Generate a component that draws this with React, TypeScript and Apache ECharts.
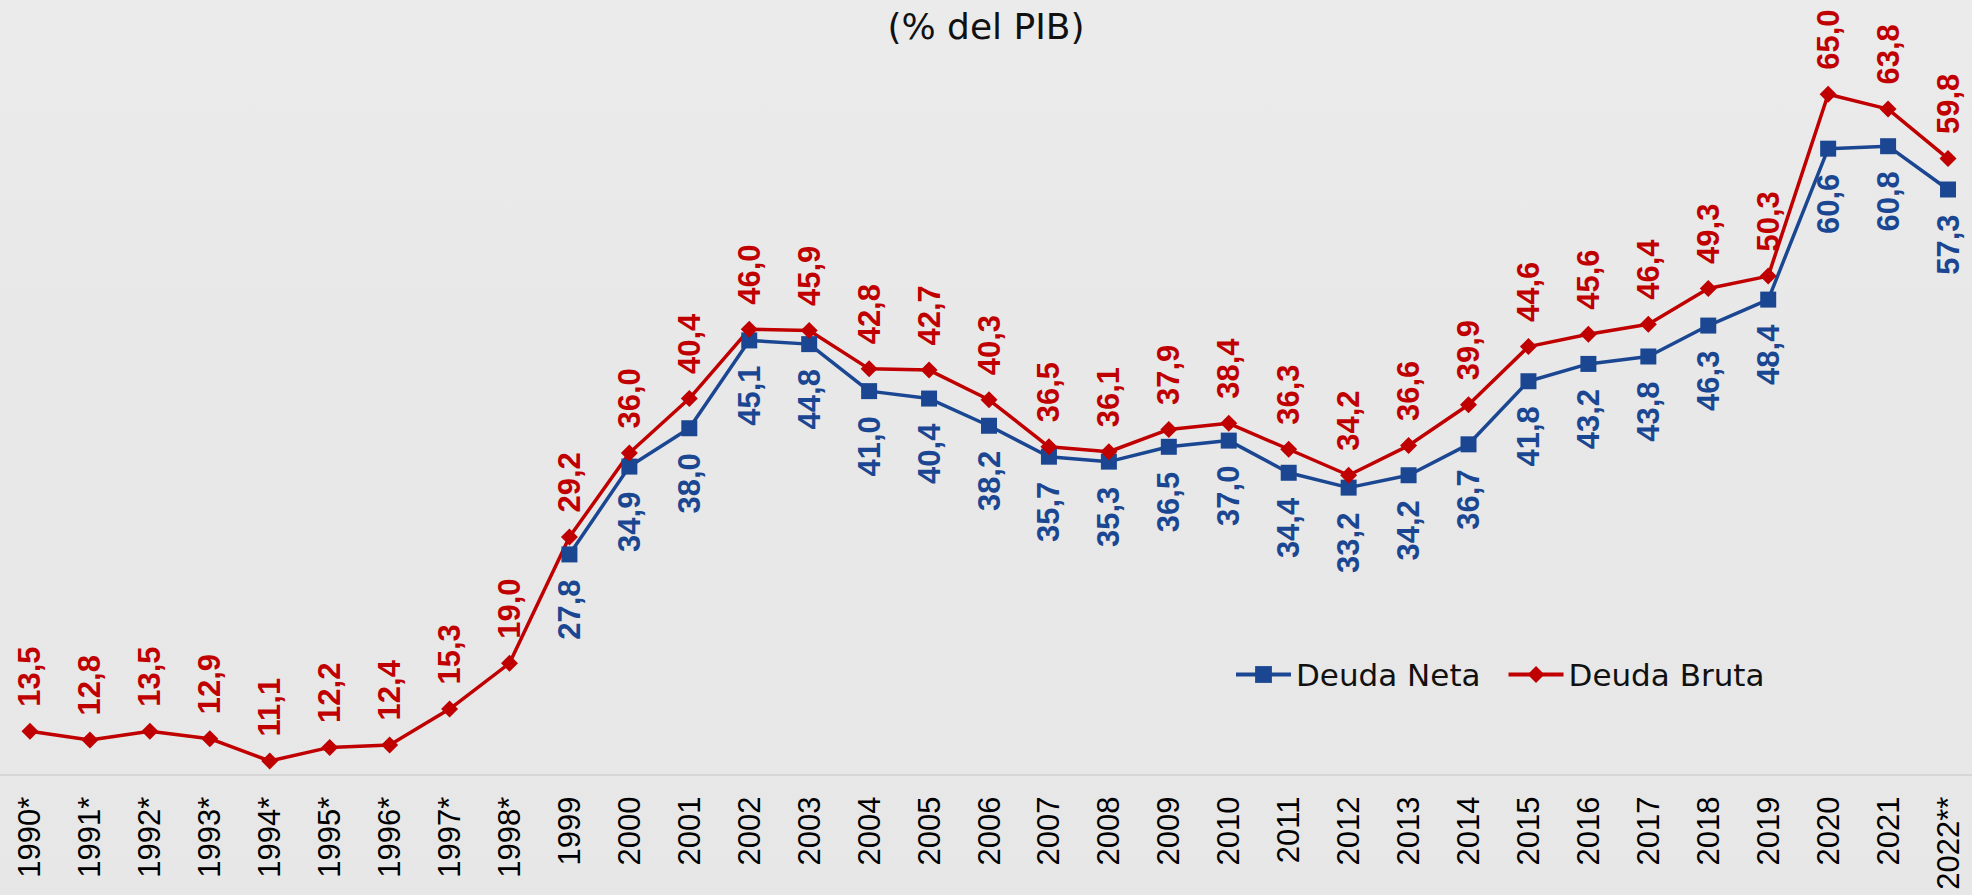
import React, { useEffect, useRef } from "react";
import * as echarts from "echarts";

const years = [
  "1990*", "1991*", "1992*", "1993*", "1994*", "1995*", "1996*", "1997*", "1998*",
  "1999", "2000", "2001", "2002", "2003", "2004", "2005", "2006", "2007", "2008",
  "2009", "2010", "2011", "2012", "2013", "2014", "2015", "2016", "2017", "2018",
  "2019", "2020", "2021", "2022**",
];

const deudaBruta = [
  13.5, 12.8, 13.5, 12.9, 11.1, 12.2, 12.4, 15.3, 19.0,
  29.2, 36.0, 40.4, 46.0, 45.9, 42.8, 42.7, 40.3, 36.5, 36.1,
  37.9, 38.4, 36.3, 34.2, 36.6, 39.9, 44.6, 45.6, 46.4, 49.3,
  50.3, 65.0, 63.8, 59.8,
];

const deudaNeta = [
  null, null, null, null, null, null, null, null, null,
  27.8, 34.9, 38.0, 45.1, 44.8, 41.0, 40.4, 38.2, 35.7, 35.3,
  36.5, 37.0, 34.4, 33.2, 34.2, 36.7, 41.8, 43.2, 43.8, 46.3,
  48.4, 60.6, 60.8, 57.3,
];

const RED = "#C00000";
const BLUE = "#1B4792";

const fmt = (p: any) => {
  const v = Array.isArray(p.value) ? p.value[1] : p.value;
  if (v === null || v === undefined || v === "-") return "";
  return Number(v).toFixed(1).replace(".", ",");
};

export default function App() {
  const ref = useRef<HTMLDivElement>(null);

  useEffect(() => {
    document.body.style.margin = "0";
    if (!ref.current) return;
    const chart = echarts.init(ref.current, undefined, { renderer: "svg" });
    chart.setOption({
      animation: false,
      backgroundColor: {
        type: "linear",
        x: 0, y: 0, x2: 0, y2: 1,
        colorStops: [
          { offset: 0, color: "#ebebeb" },
          { offset: 0.4, color: "#e8e8e8" },
          { offset: 1, color: "#e7e7e7" },
        ],
      },
      title: {
        text: "(% del PIB)",
        left: "center",
        top: 3,
        textStyle: {
          fontFamily: "DejaVu Sans",
          fontSize: 36,
          fontWeight: "normal",
          color: "#111",
        },
      },
      legend: {
        left: 1229,
        top: 654,
        itemWidth: 55,
        itemHeight: 21,
        itemGap: 26,
        lineStyle: { width: 4 },
        textStyle: {
          fontFamily: "DejaVu Sans",
          fontSize: 31,
          color: "#111",
        },
        data: ["Deuda Neta", "Deuda Bruta"],
      },
      grid: {
        left: 0,
        width: 1978,
        top: 32.4,
        height: 742.2,
        containLabel: false,
        outerBoundsMode: "none",
      },
      xAxis: {
        type: "category",
        data: years,
        boundaryGap: true,
        axisTick: { show: false },
        axisLine: { lineStyle: { color: "#d6d6d6", width: 2 } },
        axisLabel: {
          rotate: 90,
          interval: 0,
          margin: 22,
          fontFamily: "Liberation Sans",
          fontSize: 31,
          color: "#000",
        },
        splitLine: { show: false },
      },
      yAxis: {
        type: "value",
        min: 10,
        max: 70,
        show: false,
        splitLine: { show: false },
      },
      series: [
        {
          name: "Deuda Neta",
          type: "line",
          data: deudaNeta,
          symbol: "rect",
          symbolSize: 16,
          connectNulls: false,
          lineStyle: { color: BLUE, width: 3.5 },
          itemStyle: { color: BLUE },
          label: {
            show: true,
            position: "bottom",
            distance: 17,
            rotate: 90,
            align: "right",
            verticalAlign: "middle",
            formatter: fmt,
            fontFamily: "Liberation Sans",
            fontWeight: "bold",
            fontSize: 31,
            color: BLUE,
          },
        },
        {
          name: "Deuda Bruta",
          type: "line",
          data: deudaBruta,
          symbol: "diamond",
          symbolSize: 17,
          lineStyle: { color: RED, width: 3.5 },
          itemStyle: { color: RED },
          label: {
            show: true,
            position: "top",
            distance: 16,
            rotate: 90,
            align: "left",
            verticalAlign: "middle",
            formatter: fmt,
            fontFamily: "Liberation Sans",
            fontWeight: "bold",
            fontSize: 31,
            color: RED,
          },
        },
      ],
    });
    return () => chart.dispose();
  }, []);

  return (
    <div
      ref={ref}
      style={{ position: "absolute", left: 0, top: 0, width: 1972, height: 895 }}
    />
  );
}
